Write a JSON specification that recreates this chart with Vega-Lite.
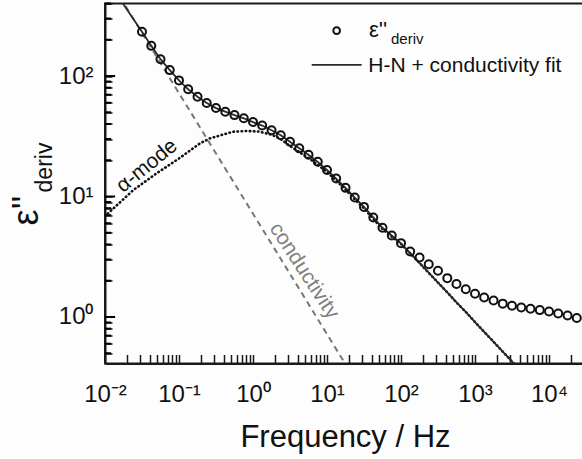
{
  "$schema": "https://vega.github.io/schema/vega-lite/v6.json",
  "description": "Derivative dielectric loss vs frequency with H-N + conductivity fit",
  "width": 480,
  "height": 360,
  "autosize": {"type": "none"},
  "padding": {"left": 105, "top": 3.5, "right": 0, "bottom": 96},
  "background": "#fdfdfd",
  "config": {
    "view": {"stroke": "#1a1a1a", "strokeWidth": 2},
    "font": "Liberation Sans",
    "axis": {
      "grid": false,
      "zindex": 1,
      "domainColor": "#1a1a1a",
      "domainWidth": 2,
      "tickColor": "#1a1a1a",
      "tickWidth": 1.5,
      "labelFont": "Liberation Sans",
      "labelFontSize": 24,
      "labelColor": "#111",
      "titleFont": "Liberation Sans",
      "titleColor": "#111",
      "titleFontWeight": "normal",
      "labelOverlap": false,
      "labelFlush": false
    }
  },
  "datasets": {
    "points": [
      {"f": 0.0316, "v": 233}, {"f": 0.0422, "v": 178}, {"f": 0.0562, "v": 138}, {"f": 0.075, "v": 112},
      {"f": 0.1, "v": 92}, {"f": 0.133, "v": 77.6}, {"f": 0.178, "v": 67.3}, {"f": 0.237, "v": 59.7},
      {"f": 0.316, "v": 54.2}, {"f": 0.422, "v": 50.6}, {"f": 0.562, "v": 47.4}, {"f": 0.75, "v": 44.6},
      {"f": 1, "v": 41.5}, {"f": 1.33, "v": 38.8}, {"f": 1.78, "v": 35.5}, {"f": 2.37, "v": 32.2},
      {"f": 3.16, "v": 28.5}, {"f": 4.22, "v": 25.1}, {"f": 5.62, "v": 22.2}, {"f": 7.5, "v": 19.4},
      {"f": 10, "v": 16.6}, {"f": 13.3, "v": 14.1}, {"f": 17.8, "v": 11.8}, {"f": 23.7, "v": 9.8},
      {"f": 31.6, "v": 8.2}, {"f": 42.2, "v": 6.7}, {"f": 56.2, "v": 5.5}, {"f": 75, "v": 4.75},
      {"f": 100, "v": 4.1}, {"f": 133, "v": 3.5}, {"f": 178, "v": 3.12}, {"f": 237, "v": 2.74},
      {"f": 316, "v": 2.42}, {"f": 422, "v": 2.1}, {"f": 562, "v": 1.88}, {"f": 750, "v": 1.7},
      {"f": 1000, "v": 1.56}, {"f": 1330, "v": 1.45}, {"f": 1780, "v": 1.37}, {"f": 2370, "v": 1.29},
      {"f": 3160, "v": 1.24}, {"f": 4220, "v": 1.2}, {"f": 5620, "v": 1.17}, {"f": 7500, "v": 1.14},
      {"f": 10000, "v": 1.11}, {"f": 13300, "v": 1.07}, {"f": 17800, "v": 1.03}, {"f": 23700, "v": 0.98}
    ],
    "fit": [
      {"f": 0.016, "v": 433}, {"f": 0.0316, "v": 233}, {"f": 0.0422, "v": 178}, {"f": 0.0562, "v": 138},
      {"f": 0.075, "v": 112}, {"f": 0.1, "v": 92}, {"f": 0.133, "v": 77.6}, {"f": 0.178, "v": 67.3},
      {"f": 0.237, "v": 59.7}, {"f": 0.316, "v": 54.2}, {"f": 0.422, "v": 50.6}, {"f": 0.562, "v": 47.4},
      {"f": 0.75, "v": 44.6}, {"f": 1, "v": 41.5}, {"f": 1.33, "v": 38.8}, {"f": 1.78, "v": 35.5},
      {"f": 2.37, "v": 32.2}, {"f": 3.16, "v": 28.5}, {"f": 4.22, "v": 25.1}, {"f": 5.62, "v": 22.2},
      {"f": 7.5, "v": 19.4}, {"f": 10, "v": 16.6}, {"f": 13.3, "v": 14.1}, {"f": 17.8, "v": 11.8},
      {"f": 23.7, "v": 9.8}, {"f": 31.6, "v": 8.2}, {"f": 42.2, "v": 6.7}, {"f": 56.2, "v": 5.5},
      {"f": 75, "v": 4.75}, {"f": 100, "v": 4.09}, {"f": 133, "v": 3.39}, {"f": 178, "v": 2.81},
      {"f": 237, "v": 2.33}, {"f": 316, "v": 1.93}, {"f": 422, "v": 1.6}, {"f": 562, "v": 1.32},
      {"f": 750, "v": 1.1}, {"f": 1000, "v": 0.908}, {"f": 1330, "v": 0.752}, {"f": 1780, "v": 0.622},
      {"f": 2370, "v": 0.515}, {"f": 3160, "v": 0.427}, {"f": 4000, "v": 0.367}
    ],
    "alpha": [
      {"f": 0.009, "v": 6.5}, {"f": 0.0117, "v": 7.5}, {"f": 0.0241, "v": 11.3}, {"f": 0.05, "v": 15.6},
      {"f": 0.1, "v": 20.7}, {"f": 0.192, "v": 27.6}, {"f": 0.262, "v": 30.4}, {"f": 0.537, "v": 34.5},
      {"f": 0.83, "v": 35.0}, {"f": 1.2, "v": 34.6}, {"f": 1.78, "v": 32.6}, {"f": 2.37, "v": 30.0},
      {"f": 3.16, "v": 26.2}, {"f": 4.22, "v": 23.4},
      {"f": 5.62, "v": 20.9}, {"f": 7.5, "v": 18.4}, {"f": 10, "v": 15.9}, {"f": 13.3, "v": 13.6},
      {"f": 17.8, "v": 11.4}, {"f": 23.7, "v": 9.5}, {"f": 31.6, "v": 7.97}, {"f": 42.2, "v": 6.53},
      {"f": 56.2, "v": 5.37}, {"f": 75, "v": 4.65}, {"f": 100, "v": 4.03}, {"f": 133, "v": 3.37},
      {"f": 178, "v": 2.8}, {"f": 237, "v": 2.32}, {"f": 316, "v": 1.93}, {"f": 422, "v": 1.6},
      {"f": 562, "v": 1.32}, {"f": 750, "v": 1.1}, {"f": 1000, "v": 0.908}, {"f": 1330, "v": 0.752},
      {"f": 1780, "v": 0.622}, {"f": 2370, "v": 0.515}, {"f": 3160, "v": 0.427}, {"f": 4000, "v": 0.367}
    ],
    "cond": [
      {"f": 0.016, "v": 450}, {"f": 18.5, "v": 0.389}
    ],
    "ymajor": [
      {"v": 1}, {"v": 10}, {"v": 100}
    ],
    "yminor": [
      {"v": 0.5}, {"v": 0.6}, {"v": 0.7}, {"v": 0.8}, {"v": 0.9},
      {"v": 2}, {"v": 3}, {"v": 4}, {"v": 5}, {"v": 6}, {"v": 7}, {"v": 8}, {"v": 9},
      {"v": 20}, {"v": 30}, {"v": 40}, {"v": 50}, {"v": 60}, {"v": 70}, {"v": 80}, {"v": 90},
      {"v": 200}, {"v": 300}, {"v": 400}
    ]
  },
  "layer": [
    {
      "data": {"name": "cond"},
      "mark": {"type": "line", "clip": true, "color": "#777", "strokeWidth": 2, "strokeDash": [6, 4.5]},
      "encoding": {
        "x": {
          "field": "f", "type": "quantitative",
          "scale": {"type": "log", "domain": [0.01, 30630], "nice": false},
          "axis": {
            "title": "Frequency / Hz",
            "titleFontSize": 31,
            "titleX": 240,
            "titleY": 83,
            "titleBaseline": "alphabetic",
            "values": [0.01, 0.02, 0.03, 0.04, 0.05, 0.06, 0.07, 0.08, 0.09,
                       0.1, 0.2, 0.3, 0.4, 0.5, 0.6, 0.7, 0.8, 0.9,
                       1, 2, 3, 4, 5, 6, 7, 8, 9,
                       10, 20, 30, 40, 50, 60, 70, 80, 90,
                       100, 200, 300, 400, 500, 600, 700, 800, 900,
                       1000, 2000, 3000, 4000, 5000, 6000, 7000, 8000, 9000,
                       10000, 20000, 30000],
            "labelExpr": "abs(log(datum.value)/LN10 - round(log(datum.value)/LN10)) < 0.001 ? ['10⁻²','10⁻¹','10⁰','10¹','10²','10³','10⁴'][round(log(datum.value)/LN10)+2] : ''",
            "tickSize": -9,
            "labelPadding": 28
          }
        },
        "y": {
          "field": "v", "type": "quantitative",
          "scale": {"type": "log", "domain": [0.411, 400], "nice": false},
          "axis": {
            "title": "ε''",
            "titleFontSize": 36,
            "titleAngle": 270,
            "titleX": -68,
            "titleY": 206.5,
            "titleAlign": "center",
            "titleBaseline": "alphabetic",
            "values": [0.5, 0.6, 0.7, 0.8, 0.9, 1, 2, 3, 4, 5, 6, 7, 8, 9,
                       10, 20, 30, 40, 50, 60, 70, 80, 90, 100, 200, 300, 400],
            "labelExpr": "abs(log(datum.value)/LN10 - round(log(datum.value)/LN10)) < 0.001 ? ['10⁰','10¹','10²'][round(log(datum.value)/LN10)] : ''",
            "tickSize": -7,
            "labelPadding": 19
          }
        }
      }
    },
    {
      "data": {"name": "ymajor"},
      "mark": {"type": "rule", "stroke": "#000000", "strokeWidth": 2, "zindex": 2},
      "encoding": {"y": {"field": "v", "type": "quantitative"}, "x": {"datum": 0.01}, "x2": {"datum": 0.0137}}
    },
    {
      "data": {"name": "yminor"},
      "mark": {"type": "rule", "stroke": "#000000", "strokeWidth": 2, "zindex": 2},
      "encoding": {"y": {"field": "v", "type": "quantitative"}, "x": {"datum": 0.01}, "x2": {"datum": 0.0121}}
    },
    {
      "data": {"name": "alpha"},
      "mark": {"type": "line", "clip": true, "color": "#111", "strokeWidth": 2.6, "strokeDash": [0.5, 3.6], "strokeCap": "round"},
      "encoding": {"x": {"field": "f", "type": "quantitative"}, "y": {"field": "v", "type": "quantitative"}}
    },
    {
      "data": {"name": "fit"},
      "mark": {"type": "line", "clip": true, "color": "#2a2a2a", "strokeWidth": 1.8},
      "encoding": {"x": {"field": "f", "type": "quantitative"}, "y": {"field": "v", "type": "quantitative"}}
    },
    {
      "data": {"name": "points"},
      "mark": {"type": "point", "shape": "circle", "filled": false, "color": "#111", "size": 64, "strokeWidth": 2, "opacity": 1},
      "encoding": {"x": {"field": "f", "type": "quantitative"}, "y": {"field": "v", "type": "quantitative"}}
    },
    {
      "data": {"values": [{"f": 13.5, "v": 238}]},
      "mark": {"type": "point", "shape": "circle", "filled": false, "color": "#111", "size": 45, "strokeWidth": 2, "opacity": 1},
      "encoding": {"x": {"field": "f", "type": "quantitative"}, "y": {"field": "v", "type": "quantitative"}}
    },
    {
      "data": {"values": [{"f": 6.21, "v": 123.6}, {"f": 29.4, "v": 123.6}]},
      "mark": {"type": "line", "color": "#2a2a2a", "strokeWidth": 1.8},
      "encoding": {"x": {"field": "f", "type": "quantitative"}, "y": {"field": "v", "type": "quantitative"}}
    },
    {
      "data": {"values": [{"label": "ε''", "f": 37.0, "v": 211}]},
      "mark": {"type": "text", "fontSize": 22, "align": "left", "baseline": "alphabetic", "color": "#111"},
      "encoding": {"x": {"field": "f", "type": "quantitative"}, "y": {"field": "v", "type": "quantitative"}, "text": {"field": "label"}}
    },
    {
      "data": {"values": [{"label": "H-N + conductivity fit", "f": 36.1, "v": 108.6}]},
      "mark": {"type": "text", "fontSize": 21, "align": "left", "baseline": "alphabetic", "color": "#111"},
      "encoding": {"x": {"field": "f", "type": "quantitative"}, "y": {"field": "v", "type": "quantitative"}, "text": {"field": "label"}}
    },
    {
      "data": {"values": [{"label": "deriv", "f": 73.3, "v": 184.5}]},
      "mark": {"type": "text", "fontSize": 15, "align": "left", "baseline": "alphabetic", "color": "#111"},
      "encoding": {"x": {"field": "f", "type": "quantitative"}, "y": {"field": "v", "type": "quantitative"}, "text": {"field": "label"}}
    },
    {
      "data": {"values": [{"label": "α-mode", "f": 0.037, "v": 17.9}]},
      "mark": {"type": "text", "fontSize": 21, "angle": 321, "align": "center", "baseline": "middle", "color": "#111"},
      "encoding": {"x": {"field": "f", "type": "quantitative"}, "y": {"field": "v", "type": "quantitative"}, "text": {"field": "label"}}
    },
    {
      "data": {"values": [{"label": "conductivity", "f": 4.89, "v": 2.41}]},
      "mark": {"type": "text", "fontSize": 21, "angle": 57, "align": "center", "baseline": "middle", "color": "#808080"},
      "encoding": {"x": {"field": "f", "type": "quantitative"}, "y": {"field": "v", "type": "quantitative"}, "text": {"field": "label"}}
    },
    {
      "data": {"values": [{"label": "deriv", "f": 0.00192, "v": 17.4}]},
      "mark": {"type": "text", "fontSize": 23, "angle": 270, "align": "center", "baseline": "alphabetic", "color": "#111"},
      "encoding": {"x": {"field": "f", "type": "quantitative"}, "y": {"field": "v", "type": "quantitative"}, "text": {"field": "label"}}
    }
  ]
}
